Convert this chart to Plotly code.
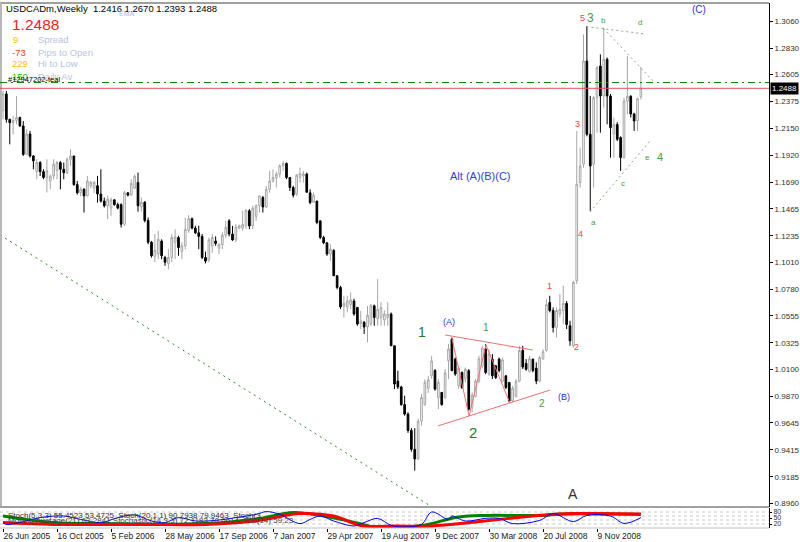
import pandas as pd
import plotly.graph_objects as go

# ---------------- data ----------------
symbol = "USDCADm,Weekly"
first_week = "2005-06-26"

opens = [1.2300,1.2440,1.2224,1.2196,1.2215,1.2239,1.2168,1.1927,1.2100,1.1913,
         1.1780,1.1857,1.1780,1.1730,1.1700,1.1745,1.1790,1.1857,1.1800,1.1770,
         1.1885,1.1913,1.1670,1.1600,1.1630,1.1574,1.1660,1.1640,1.1660,1.1590,
         1.1530,1.1490,1.1470,1.1540,1.1500,1.1500,1.1333,1.1600,1.1580,1.1640,
         1.1687,1.1480,1.1520,1.1365,1.1180,1.1060,1.1080,1.1190,1.1050,1.1000,
         1.1050,1.1180,1.1220,1.1100,1.1150,1.1280,1.1380,1.1300,1.1260,1.1230,
         1.1050,1.1030,1.1150,1.1190,1.1130,1.1160,1.1240,1.1362,1.1250,1.1200,
         1.1300,1.1300,1.1320,1.1447,1.1320,1.1400,1.1490,1.1560,1.1480,1.1630,
         1.1700,1.1730,1.1760,1.1830,1.1850,1.1730,1.1645,1.1590,1.1730,1.1745,
         1.1760,1.1600,1.1520,1.1530,1.1362,1.1220,1.1175,1.1080,1.1110,1.0895,
         1.0795,1.0635,1.0630,1.0650,1.0680,1.0626,1.0490,1.0500,1.0460,1.0485,
         1.0640,1.0530,1.0540,1.0520,1.0540,1.0570,1.0300,1.0000,0.9950,0.9800,
         0.9720,0.9580,0.9420,0.9340,0.9660,0.9800,0.9940,1.0045,1.0090,0.9860,
         0.9904,0.9860,1.0173,1.0357,1.0187,0.9960,1.0074,1.0017,1.0088,0.9780,
         0.9870,1.0000,1.0130,1.0272,1.0060,1.0187,1.0130,1.0187,1.0000,1.0045,
         0.9989,0.9830,0.9870,1.0000,1.0260,1.0150,1.0080,1.0187,1.0110,1.0000,
         1.0190,1.0260,1.0668,1.0600,1.0456,1.0570,1.0600,1.0660,1.0470,1.0300,
         1.0852,1.1687,1.1843,1.2720,1.2097,1.1843,1.2409,1.2677,1.2423,1.2734,
         1.2423,1.2100,1.2180,1.2069,1.1899,1.2380,1.2420,1.2270,1.2211,1.2416]

highs = [1.2465,1.2465,1.2230,1.2253,1.2423,1.2247,1.2210,1.2140,1.2126,1.1920,
         1.1885,1.1870,1.1800,1.1885,1.1757,1.1885,1.1870,1.1870,1.1857,1.1900,
         1.1970,1.1913,1.1700,1.1650,1.1640,1.1743,1.1700,1.1700,1.1743,1.1800,
         1.1560,1.1574,1.1560,1.1545,1.1517,1.1510,1.1615,1.1605,1.1715,1.1757,
         1.1772,1.1560,1.1530,1.1390,1.1190,1.1250,1.1277,1.1205,1.1065,1.1121,
         1.1248,1.1290,1.1235,1.1180,1.1390,1.1410,1.1390,1.1320,1.1320,1.1250,
         1.1100,1.1220,1.1250,1.1230,1.1178,1.1263,1.1362,1.1376,1.1319,1.1333,
         1.1330,1.1447,1.1461,1.1461,1.1489,1.1503,1.1574,1.1574,1.1659,1.1786,
         1.1800,1.1780,1.1843,1.1871,1.1858,1.1730,1.1660,1.1760,1.1815,1.1786,
         1.1772,1.1630,1.1602,1.1530,1.1362,1.1235,1.1178,1.1163,1.1121,1.0900,
         1.0810,1.0725,1.0725,1.0753,1.0700,1.0626,1.0597,1.0510,1.0640,1.0655,
         1.0650,1.0866,1.0670,1.0600,1.0670,1.0583,1.0300,1.0088,0.9960,0.9876,
         0.9735,0.9600,0.9600,0.9680,0.9890,1.0017,1.0045,1.0215,1.0102,1.0017,
         0.9904,1.0102,1.0314,1.0371,1.0200,1.0130,1.0080,1.0116,1.0102,0.9904,
         1.0017,1.0215,1.0300,1.0314,1.0272,1.0230,1.0135,1.0200,1.0201,1.0050,
         0.9990,0.9960,1.0017,1.0300,1.0300,1.0187,1.0215,1.0190,1.0159,1.0215,
         1.0272,1.0696,1.0725,1.0626,1.0626,1.0740,1.0810,1.0680,1.0512,1.0852,
         1.2126,1.1984,1.2946,1.3017,1.2423,1.2423,1.2680,1.2776,1.3003,1.2750,
         1.2440,1.2239,1.2200,1.2080,1.2409,1.2762,1.2430,1.2280,1.2409,1.2670]

lows = [1.2224,1.2196,1.2012,1.2097,1.2182,1.2160,1.1913,1.1920,1.1899,1.1800,
        1.1715,1.1743,1.1715,1.1602,1.1630,1.1715,1.1715,1.1630,1.1715,1.1760,
        1.1830,1.1660,1.1585,1.1570,1.1432,1.1570,1.1640,1.1600,1.1517,1.1517,
        1.1475,1.1375,1.1405,1.1490,1.1460,1.1305,1.1319,1.1570,1.1574,1.1630,
        1.1440,1.1440,1.1348,1.1163,1.1050,1.1010,1.1036,1.1036,1.0980,1.0950,
        1.1010,1.1036,1.1065,1.1036,1.1121,1.1260,1.1290,1.1250,1.1121,1.1036,
        1.1000,1.1010,1.1090,1.1150,1.1079,1.1121,1.1220,1.1230,1.1192,1.1178,
        1.1290,1.1277,1.1291,1.1291,1.1291,1.1362,1.1432,1.1432,1.1470,1.1600,
        1.1687,1.1645,1.1730,1.1786,1.1715,1.1616,1.1560,1.1574,1.1687,1.1687,
        1.1602,1.1503,1.1517,1.1333,1.1206,1.1163,1.1064,1.1022,1.0895,1.0781,
        1.0612,1.0541,1.0584,1.0612,1.0555,1.0470,1.0442,1.0400,1.0329,1.0470,
        1.0470,1.0470,1.0470,1.0470,1.0470,1.0300,0.9932,0.9932,0.9790,0.9706,
        0.9560,0.9400,0.9239,0.9330,0.9620,0.9791,0.9900,1.0020,0.9918,0.9762,
        0.9791,0.9850,1.0017,1.0088,1.0045,0.9932,0.9932,0.9990,0.9748,0.9734,
        0.9861,0.9980,1.0110,1.0059,1.0045,1.0017,1.0017,1.0074,0.9989,0.9932,
        0.9819,0.9819,0.9861,0.9990,1.0102,1.0088,1.0074,1.0074,0.9974,0.9990,
        1.0180,1.0250,1.0584,1.0413,1.0371,1.0540,1.0484,1.0442,1.0300,1.0286,
        1.0824,1.1644,1.1814,1.2080,1.1446,1.1644,1.2111,1.2111,1.2324,1.2182,
        1.1899,1.1899,1.2040,1.1786,1.1890,1.2267,1.2240,1.2126,1.2126,1.2393]

closes = [1.2440,1.2224,1.2196,1.2215,1.2239,1.2168,1.1927,1.2100,1.1913,1.1871,
          1.1857,1.1780,1.1730,1.1790,1.1740,1.1842,1.1857,1.1800,1.1770,1.1885,
          1.1913,1.1670,1.1600,1.1630,1.1574,1.1700,1.1690,1.1690,1.1590,1.1530,
          1.1490,1.1545,1.1540,1.1500,1.1470,1.1333,1.1600,1.1580,1.1680,1.1740,
          1.1490,1.1520,1.1365,1.1180,1.1065,1.1110,1.1205,1.1065,1.1010,1.1050,
          1.1220,1.1225,1.1135,1.1150,1.1290,1.1380,1.1300,1.1260,1.1230,1.1050,
          1.1020,1.1200,1.1220,1.1170,1.1160,1.1240,1.1305,1.1250,1.1200,1.1310,
          1.1320,1.1330,1.1450,1.1319,1.1470,1.1490,1.1574,1.1480,1.1630,1.1700,
          1.1730,1.1760,1.1830,1.1850,1.1730,1.1645,1.1580,1.1750,1.1765,1.1760,
          1.1605,1.1517,1.1580,1.1348,1.1220,1.1175,1.1080,1.1120,1.0895,1.0795,
          1.0630,1.0660,1.0680,1.0690,1.0570,1.0485,1.0510,1.0460,1.0560,1.0640,
          1.0540,1.0610,1.0625,1.0570,1.0570,1.0300,0.9975,0.9950,0.9800,0.9720,
          0.9580,0.9420,0.9338,0.9660,0.9860,0.9990,1.0010,1.0170,0.9932,0.9990,
          0.9800,1.0070,1.0272,1.0088,1.0060,1.0110,0.9945,1.0100,0.9762,0.9880,
          1.0000,1.0190,1.0280,1.0074,1.0230,1.0045,1.0030,1.0090,1.0180,0.9945,
          0.9830,0.9940,1.0000,1.0260,1.0120,1.0100,1.0190,1.0090,1.0000,1.0200,
          1.0250,1.0650,1.0600,1.0456,1.0600,1.0610,1.0660,1.0480,1.0342,1.0840,
          1.1673,1.1828,1.2720,1.2097,1.1828,1.2409,1.2663,1.2423,1.2734,1.2423,
          1.2154,1.2180,1.2055,1.1899,1.2380,1.2420,1.2270,1.2211,1.2400,1.2488]

price_ticks = [0.8960, 0.9185, 0.9415, 0.9645, 0.9870, 1.0100, 1.0325, 1.0555,
               1.0780, 1.1010, 1.1235, 1.1465, 1.1690, 1.1920, 1.2150, 1.2375,
               1.2605, 1.2830, 1.3060]
date_tick_weeks = [0, 16, 32, 48, 64, 80, 96, 112, 128, 144, 160, 176]
date_tick_text = ["26 Jun 2005", "16 Oct 2005", "5 Feb 2006", "28 May 2006",
                  "17 Sep 2006", "7 Jan 2007", "29 Apr 2007", "19 Aug 2007",
                  "9 Dec 2007", "30 Mar 2008", "20 Jul 2008", "9 Nov 2008"]

bid_price = 1.2488
ema_level = 1.2537

# oscillator panel (week index, value 0..100)
blue_weeks = [0,1,5,11,18,23,29,34,39,44,48,52,57,63,69,75,78,82,88,91,94,98,104,107,
              111,115,119,124,127,132,133,137,143,147,151,159,163,169,173,180,184,189]
blue_vals = [27,18,27,52,60,43,27,52,65,35,27,52,35,38,52,68,82,68,22,43,60,35,10,27,
             48,13,5,18,80,43,60,35,48,48,22,38,72,32,63,60,23,52]
green_weeks = [0,15,30,60,75,86,95,105,110,124,135,143,160,165,189]
green_vals = [60,27,22,22,45,77,60,25,5,13,55,63,63,70,68]
red_weeks = [0,15,40,60,75,88,98,106,117,127,140,157,170,189]
red_vals = [27,18,18,18,35,72,60,13,10,10,30,60,72,70]

# drawn trend lines: (week position, price)
trend_long = [(-0.9, 1.1242), (127.1, 0.8930)]
tri_upper = [(131.0, 1.0392), (157.0, 1.0264)]
tri_lower = [(128.9, 0.9619), (162.1, 0.9924)]
zigzag = [(133.0, 1.0366), (138.1, 0.9703), (143.1, 1.0307), (150.2, 0.9814)]
wedge_top1 = [(172.9, 1.3012), (190.2, 1.2950)]
wedge_top2 = [(177.9, 1.2998), (193.2, 1.2533)]
wedge_low = [(173.9, 1.1437), (191.7, 1.2040)]

# ---------------- figure ----------------
t0 = pd.Timestamp(first_week)
dates = pd.date_range(t0, periods=len(closes), freq="7D")


def wk(w):
    return t0 + pd.Timedelta(days=7 * w)


W, H = 800, 542
ML, MR, MT, MB = 0, 31, 3, 14
PW, PH = W - ML - MR, H - MT - MB


def px(x):
    return (x - ML) / PW


def py(y):
    return (H - MB - y) / PH


fig = go.Figure()

fig.add_trace(go.Candlestick(
    x=dates, open=opens, high=highs, low=lows, close=closes,
    increasing=dict(line=dict(color="#a6a6a6", width=1), fillcolor="#ffffff"),
    decreasing=dict(line=dict(color="#000000", width=1), fillcolor="#000000"),
    whiskerwidth=0, xaxis="x", yaxis="y", showlegend=False, hoverinfo="skip"))


def add_line(pts, color, dash, width=1):
    fig.add_trace(go.Scatter(x=[wk(p[0]) for p in pts], y=[p[1] for p in pts],
                             mode="lines", line=dict(color=color, dash=dash, width=width),
                             xaxis="x", yaxis="y", showlegend=False, hoverinfo="skip"))


add_line(trend_long, "#2e8b2e", "2px,4px")
add_line(tri_upper, "#f07070", "solid")
add_line(tri_lower, "#f07070", "solid")
add_line(zigzag, "#f07070", "solid")
add_line(wedge_top1, "#8aac8a", "2px,3px")
add_line(wedge_top2, "#8aac8a", "2px,3px")
add_line(wedge_low, "#8aac8a", "2px,3px")

for wks, vals, col, wdt in [(green_weeks, green_vals, "#008000", 3),
                             (red_weeks, red_vals, "#ff0000", 3),
                             (blue_weeks, blue_vals, "#0000ff", 1)]:
    fig.add_trace(go.Scatter(x=[dates[i] for i in wks], y=vals, mode="lines",
                             line=dict(color=col, width=wdt, shape="spline", smoothing=1.0),
                             xaxis="x", yaxis="y2", showlegend=False, hoverinfo="skip"))

x_lo = wk(-(3 / 3.375))
x_hi = wk((PW - 3) / 3.375)

font = "Liberation Sans, Arial, DejaVu Sans, sans-serif"

fig.update_layout(
    width=W, height=H, margin=dict(l=ML, r=MR, t=MT, b=MB, autoexpand=False),
    paper_bgcolor="white", plot_bgcolor="white",
    font=dict(family=font, size=9, color="#202020"),
    xaxis=dict(type="date", range=[x_lo, x_hi], anchor="y2", domain=[0, 1],
               tickvals=[dates[i] for i in date_tick_weeks], ticktext=date_tick_text,
               ticks="outside", ticklen=3, tickcolor="#000000", tickangle=0,
               ticklabelposition="outside right", tickfont=dict(size=8.5, color="#202020"),
               showgrid=False, zeroline=False, showline=False, automargin=False,
               rangeslider=dict(visible=False), fixedrange=True),
    yaxis=dict(domain=[py(507), 1], range=[0.8930, 1.3213], side="right", anchor="x",
               tickvals=price_ticks, ticktext=[f"{v:.4f}" for v in price_ticks],
               ticks="outside", ticklen=3, tickcolor="#000000", automargin=False,
               tickfont=dict(size=8, color="#303030"),
               showline=True, linecolor="#000000", linewidth=1,
               showgrid=False, zeroline=False),
    yaxis2=dict(domain=[0, py(508)], range=[0, 100], side="right", anchor="x",
                tickvals=[20, 50, 80], ticktext=["20", "50", "80"], automargin=False,
                ticks="outside", ticklen=2, tickcolor="#000000",
                tickfont=dict(size=7, color="#303030"),
                showline=True, linecolor="#000000", linewidth=1,
                showgrid=False, zeroline=False),
)

shapes = []
for lv in [20, 40, 60, 80]:
    shapes.append(dict(type="line", xref="paper", yref="y2", x0=0, x1=1, y0=lv, y1=lv,
                       line=dict(color="#c8c8c8", width=1, dash="dot"), layer="below"))
shapes.append(dict(type="line", xref="paper", yref="paper", x0=0, x1=1, y0=py(3), y1=py(3),
                   line=dict(color="#a0a0a0", width=2)))
shapes.append(dict(type="line", xref="paper", yref="paper", x0=px(1), x1=px(1), y0=py(3), y1=py(507),
                   line=dict(color="#b8b8b8", width=2)))
shapes.append(dict(type="line", xref="paper", yref="paper", x0=0, x1=1, y0=py(507), y1=py(507),
                   line=dict(color="#a0a0a0", width=2)))
shapes.append(dict(type="line", xref="paper", yref="paper", x0=0, x1=1, y0=0, y1=0,
                   line=dict(color="#c0c0c0", width=1)))
shapes.append(dict(type="line", xref="paper", yref="y", x0=0, x1=1, y0=ema_level, y1=ema_level,
                   line=dict(color="#008000", width=1, dash="7px,4px,2px,4px")))
shapes.append(dict(type="line", xref="paper", yref="y", x0=0, x1=1, y0=bid_price, y1=bid_price,
                   line=dict(color="#e85050", width=1)))
fig.update_layout(shapes=shapes)

ann = []


def txt(x, y, s, size, color, anchor="left", bold=False):
    if bold:
        s = f"<b>{s}</b>"
    ann.append(dict(x=px(x), y=py(y), xref="paper", yref="paper", text=s, showarrow=False,
                    xanchor=anchor, yanchor="middle",
                    font=dict(size=size, color=color, family=font)))


# header block
txt(4, 8.5, f"{symbol}  {opens[-1]:.4f} {highs[-1]:.4f} {lows[-1]:.4f} {closes[-1]:.4f}", 9.5, "#000000")
txt(117, 13.5, "EMA", 7, "#a8b8e0")
txt(10, 25, f"{bid_price:.4f}", 15.5, "#ff2020")
txt(11, 39, "9", 9.5, "#ffc000")
txt(36, 39, "Spread", 9.5, "#b8c4e0")
txt(10, 52, "-73", 9.5, "#ff3c1e")
txt(36, 52, "Pips to Open", 9.5, "#b8c4e0")
txt(10, 64, "229", 9.5, "#ffc000")
txt(36, 64, "Hi to Low", 9.5, "#b8c4e0")
txt(10, 76.5, "150", 9.5, "#22cc22")
txt(36, 76.5, "Daily Av", 9.5, "#b8c4e0")
txt(6, 79, "#12947202-teal", 7.5, "#000000")

# wave labels
txt(422, 332, "1", 14, "#208020", "center")
txt(449, 322, "(A)", 9, "#3030e0", "center")
txt(486, 327, "1", 10, "#40a040", "center")
txt(473, 432, "2", 15, "#208020", "center")
txt(542, 403, "2", 10, "#40a040", "center")
txt(564, 397, "(B)", 9, "#3030e0", "center")
txt(448, 176, "Alt (A)(B)(C)", 11, "#3040e0")
txt(699, 9, "(C)", 10, "#3030e0", "center")
txt(573, 494, "A", 14, "#303030", "center")
txt(549, 286, "1", 9, "#ff4040", "center")
txt(576, 347, "2", 9, "#ff4040", "center")
txt(577, 124, "3", 9, "#ff4040", "center")
txt(580, 234, "4", 9, "#ff4040", "center")
txt(582, 18, "5", 9, "#ff4040", "center")
txt(590, 18, "3", 12, "#40a040", "center")
txt(603, 21, "b", 8, "#40a040", "center")
txt(640, 23, "d", 8, "#40a040", "center")
txt(593, 223, "a", 8, "#40a040", "center")
txt(623, 184, "c", 8, "#40a040", "center")
txt(647, 158, "e", 8, "#40a040", "center")
txt(660, 157, "4", 11, "#40a040", "center")

# oscillator captions
txt(6, 515, "Stoch(5,3,3) 55.4523 53.4725  Stoch(20,1,1) 90.7938 79.9463  Stoch(3", 8, "#303030")
txt(6, 520, "Moving Average(21) 63.2841 Stochastic(14,3,3) 72.1183 70.0614  RSI(14) 59.23", 8, "#404040")

# bid price tag on the axis
ann.append(dict(x=px(770), y=bid_price, xref="paper", yref="y", text=f"{bid_price:.4f}",
                showarrow=False, xanchor="left", yanchor="middle", bgcolor="#000000",
                borderpad=1, font=dict(size=8, color="#ffffff", family=font)))

fig.update_layout(annotations=ann)

fig.write_html("out.html", config={"displayModeBar": False},
               post_script="document.body.style.margin='0px';document.body.style.padding='0px';")
